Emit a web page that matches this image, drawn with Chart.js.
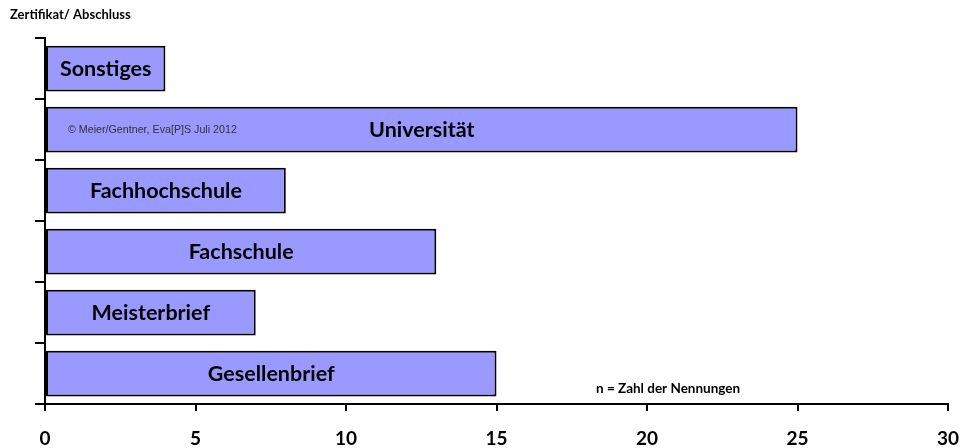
<!DOCTYPE html>
<html lang="de">
<head>
<meta charset="UTF-8">
<title>Zertifikat/ Abschluss</title>
<script src="https://cdn.jsdelivr.net/npm/chart.js@4/dist/chart.umd.min.js"></script>
<style>
  * { margin: 0; padding: 0; }
  body { background: #fff; }
  canvas { display: block; }
</style>
</head>
<body>
<canvas id="abschluss" width="962" height="448"></canvas>
<script>
  // Abschlüsse, von oben nach unten
  const categories = ['Sonstiges', 'Universität', 'Fachhochschule', 'Fachschule', 'Meisterbrief', 'Gesellenbrief'];
  const nennungen = [4, 25, 8, 13, 7, 15];
  const xMax = 30;
  const xStep = 5;

  const FONT = "Lato, 'Open Sans', sans-serif";

  // Beschriftungen in den Balken plus Titel / Hinweise
  const textPlugin = {
    id: 'texte',
    afterDatasetsDraw(chart) {
      const ctx = chart.ctx;
      const meta = chart.getDatasetMeta(0);
      ctx.save();
      ctx.fillStyle = '#000';
      ctx.textAlign = 'center';
      ctx.textBaseline = 'middle';
      ctx.font = 'bold 21.5px ' + FONT;
      meta.data.forEach((bar, i) => {
        const cx = (bar.base + bar.x) / 2;
        ctx.fillText(categories[i], cx, bar.y + 1);
      });

      // Copyright im Universitäts-Balken
      const uni = meta.data[1];
      ctx.textAlign = 'left';
      ctx.font = '10.7px Arial, "Liberation Sans", sans-serif';
      ctx.fillStyle = '#333';
      ctx.fillText('© Meier/Gentner, Eva[P]S Juli 2012', 68, uni.y + 1);

      ctx.fillStyle = '#000';
      ctx.font = 'bold 13px ' + FONT;
      ctx.fillText('Zertifikat/ Abschluss', 10, 15);
      ctx.font = 'bold 13.5px ' + FONT;
      ctx.fillText('n = Zahl der Nennungen', 596, 389);
      ctx.restore();
    }
  };

  new Chart(document.getElementById('abschluss'), {
    type: 'bar',
    data: {
      labels: categories,
      datasets: [{
        data: nennungen,
        backgroundColor: '#9999FF',
        borderColor: '#000',
        borderWidth: 2,
        borderSkipped: false,
        barPercentage: 0.75,
        categoryPercentage: 1
      }]
    },
    options: {
      indexAxis: 'y',
      responsive: false,
      animation: false,
      layout: { padding: { top: 38, right: 14, left: 0, bottom: 0 } },
      plugins: { legend: { display: false }, tooltip: { enabled: false } },
      scales: {
        x: {
          min: 0,
          max: xMax,
          ticks: {
            stepSize: xStep,
            color: '#000',
            font: { family: FONT, size: 19, weight: 'bold' },
            padding: 16
          },
          grid: { drawOnChartArea: false, color: '#000', lineWidth: 2, tickLength: 7 },
          border: { color: '#000', width: 2 },
          afterFit(scale) {
            scale.height = 44;
            scale.paddingLeft = 0;
            scale.paddingRight = 0;
          }
        },
        y: {
          ticks: { display: false },
          grid: { drawOnChartArea: false, color: '#000', lineWidth: 2, tickLength: 10, offset: true },
          border: { color: '#000', width: 2 },
          afterFit(scale) { scale.width = 45; }
        }
      }
    },
    plugins: [textPlugin]
  });
</script>
</body>
</html>
